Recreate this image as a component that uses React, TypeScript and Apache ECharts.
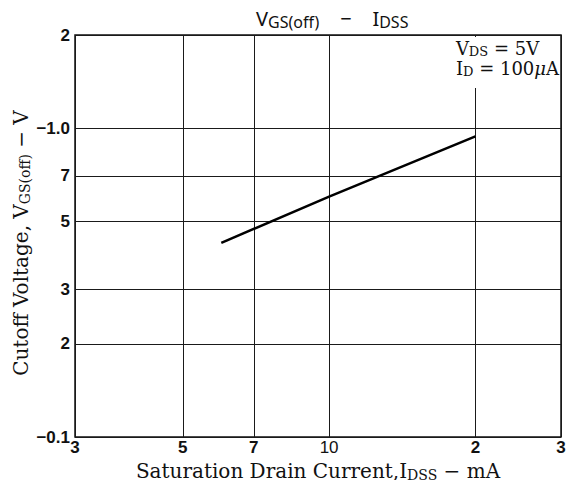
import React, { useEffect, useRef } from "react";
import * as echarts from "echarts";

const xTicks = [3, 5, 7, 10, 20, 30];
const xTickLabels = ["3", "5", "7", "10", "2", "3"];
const yTicks = [0.1, 0.2, 0.3, 0.5, 0.7, 1.0, 2.0];
const yTickLabels = ["−0.1", "2", "3", "5", "7", "−1.0", "2"];
const idss = [6, 10, 20];
const vgsOff = [0.425, 0.6, 0.94];

export default function App() {
  const ref = useRef<HTMLDivElement>(null);
  useEffect(() => {
    const chart = echarts.init(ref.current!, null, { renderer: "svg" });
    const tickFont = { fontFamily: "Liberation Sans", fontWeight: "bold" as const, fontSize: 17, color: "#111" };
    const gridLine = { color: "#1a1a1a", width: 1, type: "solid" as const };
    const markData: any[] = [];
    xTicks.forEach((v, i) => {
      markData.push({
        xAxis: v,
        label: { show: true, position: "start", distance: 2, formatter: xTickLabels[i], ...tickFont, fontWeight: v === 10 ? "normal" : "bold" },
        lineStyle: gridLine,
      });
    });
    yTicks.forEach((v, i) => {
      markData.push({
        yAxis: v,
        label: { show: true, position: "start", distance: 5, formatter: yTickLabels[i], ...tickFont },
        lineStyle: gridLine,
      });
    });
    const serif = "DejaVu Serif";
    chart.setOption({
      animation: false,
      title: {
        text: "{a|V}{s|GS(off)}{a|    −    I}{s|DSS}",
        left: 251,
        top: 0,
        textStyle: {
          rich: {
            a: { fontFamily: "Noto Sans", fontWeight: "normal", fontSize: 20, color: "#111", lineHeight: 26 },
            s: { fontFamily: "Noto Sans", fontWeight: "normal", fontSize: 16, color: "#111", padding: [8, 0, 0, 0], lineHeight: 26 },
          },
        },
      },
      grid: { left: 75, right: 15, top: 35, bottom: 51, show: true, borderColor: "#111", borderWidth: 1.5, backgroundColor: "transparent" },
      xAxis: {
        type: "log",
        logBase: 10,
        min: 3,
        max: 30,
        axisLabel: { show: false },
        axisTick: { show: false },
        splitLine: { show: false },
        axisLine: { show: false },
        name: "{n|Saturation Drain Current,I}{s|DSS}{n| − mA}",
        nameLocation: "middle",
        nameGap: 22,
        nameTextStyle: {
          rich: {
            n: { fontFamily: serif, fontSize: 20, color: "#111", lineHeight: 24 },
            s: { fontFamily: serif, fontSize: 14, color: "#111", padding: [8, 0, 0, 0], lineHeight: 24 },
          },
        },
      },
      yAxis: {
        type: "log",
        logBase: 10,
        min: 0.1,
        max: 2,
        axisLabel: { show: false },
        axisTick: { show: false },
        splitLine: { show: false },
        axisLine: { show: false },
        name: "{n|Cutoff Voltage, V}{s|GS(off)}{n| − V}",
        nameLocation: "middle",
        nameRotate: 90,
        nameGap: 42,
        nameTextStyle: {
          padding: [0, 14, 0, 0],
          rich: {
            n: { fontFamily: serif, fontSize: 20, color: "#111", lineHeight: 24 },
            s: { fontFamily: serif, fontSize: 14, color: "#111", padding: [8, 0, 0, 0], lineHeight: 24 },
          },
        },
      },
      graphic: [
        {
          type: "text",
          right: 16,
          top: 37,
          z: 100,
          style: {
            text: "{v|V}{s|DS}{v| = 5V}\n{v|I}{s|D}{v| = 100}{m|μ}{v|A}",
            backgroundColor: "#fff",
            padding: [1, 1, 10, 3],
            rich: {
              v: { fontFamily: serif, fontSize: 18, fill: "#111", lineHeight: 20 },
              s: { fontFamily: serif, fontSize: 13, fill: "#111", padding: [7, 0, 0, 0], lineHeight: 20 },
              m: { fontFamily: serif, fontStyle: "italic", fontSize: 18, fill: "#111", lineHeight: 20 },
            },
          },
        },
      ],
      series: [
        {
          type: "line",
          data: idss.map((x, i) => [x, vgsOff[i]]),
          showSymbol: false,
          lineStyle: { color: "#000", width: 2.5 },
          z: 5,
          markLine: {
            silent: true,
            symbol: ["none", "none"],
            animation: false,
            data: markData,
          },
        },
      ],
    });
    return () => chart.dispose();
  }, []);
  return <div ref={ref} style={{ width: 576, height: 488, margin: -8 }} />;
}
